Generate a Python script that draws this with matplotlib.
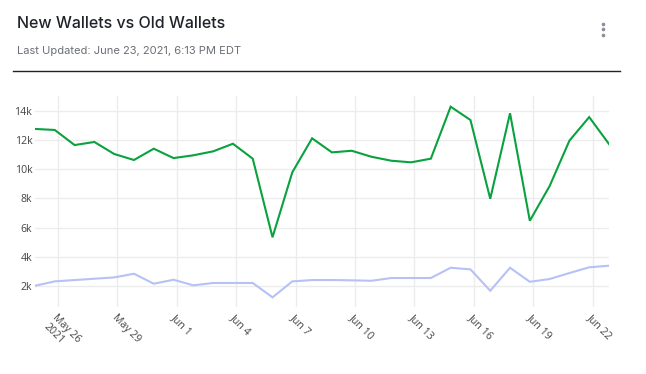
import matplotlib
matplotlib.use("Agg")
import matplotlib.pyplot as plt
import pandas as pd
from matplotlib.lines import Line2D

# ---- data ----
start_date_utc = "2021-05-25"
n_days = 30
new_wallets = [12750, 12680, 11650, 11860, 11040, 10630, 11400, 10760, 10950, 11220,
               11740, 10720, 5350, 9790, 12110, 11150, 11260, 10850, 10580, 10470,
               10720, 14270, 13360, 7980, 13820, 6480, 8850, 11950, 13560, 11720]
old_wallets = [2040, 2340, 2430, 2520, 2610, 2860, 2180, 2450, 2070, 2230,
               2230, 2230, 1250, 2340, 2430, 2430, 2410, 2380, 2570, 2570,
               2570, 3270, 3160, 1700, 3270, 2310, 2500, 2910, 3300, 3410]
tick_dates = ["2021-05-26", "2021-05-29", "2021-06-01", "2021-06-04", "2021-06-07",
              "2021-06-10", "2021-06-13", "2021-06-16", "2021-06-19", "2021-06-22"]
tick_labels = ["May 26\n2021", "May 29", "Jun 1", "Jun 4", "Jun 7",
               "Jun 10", "Jun 13", "Jun 16", "Jun 19", "Jun 22"]
y_ticks = [2000, 4000, 6000, 8000, 10000, 12000, 14000]
y_tick_labels = ["2k", "4k", "6k", "8k", "10k", "12k", "14k"]
title = "New Wallets vs Old Wallets"
subtitle = "Last Updated: June 23, 2021, 6:13 PM EDT"

# dates at UTC midnight shown in EDT (UTC-4)
dates = pd.date_range(start_date_utc, periods=n_days, freq="D") - pd.Timedelta(hours=4)

W, H = 646, 374
fig = plt.figure(figsize=(W / 100, H / 100), dpi=100)
fig.patch.set_facecolor("white")

ax = fig.add_axes([35 / W, 1 - 306.7 / H, (609 - 35) / W, (306.7 - 96) / H])
ax.plot(dates, old_wallets, color="#b7c1f5", lw=1.5, solid_joinstyle="miter", zorder=3)
ax.plot(dates, new_wallets, color="#0aa13f", lw=1.5, solid_joinstyle="miter", zorder=4)

ax.set_xlim(dates[0], dates[-1])
ax.set_ylim(610, 15000)

for s in ax.spines.values():
    s.set_visible(False)

ax.set_yticks(y_ticks)
ax.set_yticklabels(y_tick_labels, fontsize=7.6, color="#444444", family="Open Sans")
ax.set_xticks(pd.to_datetime(tick_dates))
ax.set_xticklabels(tick_labels, fontsize=7.6, color="#444444", family="Open Sans",
                   rotation=-45, ha="left", va="top", rotation_mode="anchor")
ax.tick_params(axis="both", length=0)
ax.tick_params(axis="y", pad=2)
ax.tick_params(axis="x", pad=4)
ax.grid(True, color="#ececec", lw=1.0)
ax.set_axisbelow(True)

# header
fig.text(17 / W, 1 - 24 / H, title, fontsize=11.5, family="Inter", weight="medium",
         color="#1f2329", ha="left", va="center")
fig.text(17 / W, 1 - 50.5 / H, subtitle, fontsize=8.05, family="Inter",
         color="#6b6f76", ha="left", va="center")
fig.add_artist(Line2D([13 / W, 620 / W], [1 - 71 / H, 1 - 71 / H],
                      transform=fig.transFigure, color="#222222", lw=1.0))
for yy in (24, 29.3, 34.6):
    fig.add_artist(Line2D([603 / W], [1 - yy / H], transform=fig.transFigure,
                          marker="o", markersize=1.6, color="#8a8f98", lw=0))

fig.savefig("out.png", dpi=100)
